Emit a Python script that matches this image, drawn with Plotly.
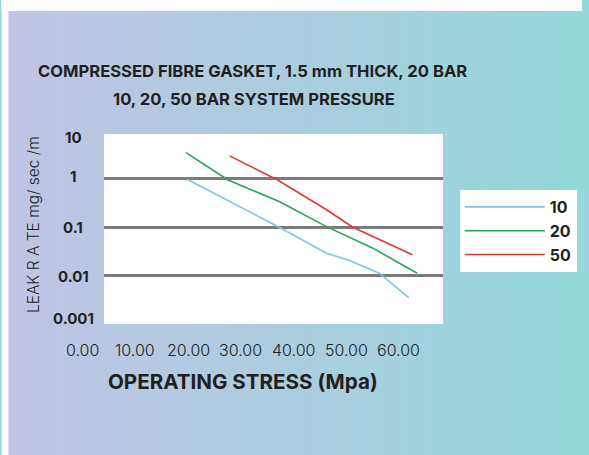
import plotly.graph_objects as go

# ---------------- data ----------------
series_names = ["10", "20", "50"]
stress_10 = [19.8, 26.7, 37.3, 46.3, 50.7, 56.3, 61.9]
leak_10 = [0.98, 0.40, 0.10, 0.029, 0.0205, 0.0112, 0.0035]
stress_20 = [19.6, 27.6, 37.3, 46.3, 55.1, 63.5]
leak_20 = [3.5, 0.95, 0.34, 0.103, 0.037, 0.0112]
stress_50 = [27.9, 37.0, 46.3, 51.3, 62.6]
leak_50 = [2.99, 0.95, 0.23, 0.10, 0.027]

x_tick_values = [0, 10, 20, 30, 40, 50, 60]
x_tick_labels = ["0.00", "10.00", "20.00", "30.00", "40.00", "50.00", "60.00"]
y_tick_exponents = [1, 0, -1, -2, -3]          # 10 ... 0.001
y_tick_labels = ["10", "1", "0.1", "0.01", "0.001"]
y_grid_values = [1, 0.1, 0.01]

title_line1 = "COMPRESSED FIBRE GASKET, 1.5 mm THICK, 20 BAR"
title_line2 = "10, 20, 50 BAR SYSTEM PRESSURE"
x_title = "OPERATING STRESS (Mpa)"
y_title = "LEAK R A TE mg/ sec /m"

colors = ["#7cc8e6", "#2aa35c", "#e0392e"]

# ---------------- layout geometry (px) ----------------
W, H = 589, 455
PL, PR, PT, PB = 104, 448, 134, 324  # plot area
pw, ph = PR - PL, PB - PT
X_RANGE = [(PL - 82.5) / 5.342, (PR - 82.5) / 5.342]
Y_RANGE = [-3, 0.928]


def px_x(px):
    return (px - PL) / pw


def px_y(py):
    return (PB - py) / ph


def xval_paper(v):
    return (v - X_RANGE[0]) / (X_RANGE[1] - X_RANGE[0])


def yexp_paper(e):
    return (e - Y_RANGE[0]) / (Y_RANGE[1] - Y_RANGE[0])


TEXT = "#231f20"
FONT = "Inter"

fig = go.Figure()
for name, xs, ys, c in zip(series_names,
                           [stress_10, stress_20, stress_50],
                           [leak_10, leak_20, leak_50], colors):
    fig.add_trace(go.Scatter(x=xs, y=ys, mode="lines", name=name,
                             line=dict(color=c, width=1.6)))

# background gradient (lavender -> teal), kept inside the figure bounds
shapes = []
left_c = (193, 196, 228)
right_c = (148, 216, 216)
gx0, gx1, gy0, gy1 = 7, W, 11, H
N = 90
for i in range(N):
    t = i / (N - 1)
    r = round(left_c[0] + (right_c[0] - left_c[0]) * t)
    g = round(left_c[1] + (right_c[1] - left_c[1]) * t)
    b = round(left_c[2] + (right_c[2] - left_c[2]) * t)
    a = gx0 + (gx1 - gx0) * i / N
    bb = min(gx0 + (gx1 - gx0) * (i + 1) / N + 0.6, W)
    shapes.append(dict(type="rect", xref="paper", yref="paper",
                       x0=px_x(a), x1=px_x(bb), y0=px_y(gy1), y1=px_y(gy0),
                       fillcolor=f"rgb({r},{g},{b})", line=dict(width=0),
                       layer="below"))
# white margins (top and left) around the coloured panel
shapes.append(dict(type="rect", xref="paper", yref="paper",
                   x0=px_x(0), x1=px_x(W), y0=px_y(gy0), y1=px_y(0),
                   fillcolor="white", line=dict(width=0), layer="below"))
shapes.append(dict(type="rect", xref="paper", yref="paper",
                   x0=px_x(0), x1=px_x(gx0), y0=px_y(H), y1=px_y(0),
                   fillcolor="white", line=dict(width=0), layer="below"))
# white plot area
shapes.append(dict(type="rect", xref="x domain", yref="y domain",
                   x0=0, x1=1, y0=0, y1=1, fillcolor="white",
                   line=dict(width=0), layer="below"))

annotations = []
# title lines
for txt, cx, cy in [(title_line1, 255, 71), (title_line2, 256, 99)]:
    annotations.append(dict(text=txt, xref="paper", yref="paper",
                            x=px_x(cx), y=px_y(cy), showarrow=False,
                            xanchor="center", yanchor="middle",
                            font=dict(family=FONT, size=16.6, color=TEXT, weight="bold")))
# x title
annotations.append(dict(text=x_title, xref="paper", yref="paper",
                        x=px_x(245), y=px_y(381), showarrow=False,
                        xanchor="center", yanchor="middle",
                        font=dict(family=FONT, size=20.6, color=TEXT, weight="bold")))
# y title
annotations.append(dict(text=y_title, xref="paper", yref="paper",
                        x=px_x(32), y=px_y(225), showarrow=False, textangle=-90,
                        xanchor="center", yanchor="middle",
                        font=dict(family=FONT, size=15.5, color=TEXT, weight=300)))
# x tick labels
for v, lab in zip(x_tick_values, x_tick_labels):
    annotations.append(dict(text=lab, xref="paper", yref="paper",
                            x=xval_paper(v), y=px_y(350),
                            showarrow=False, xanchor="center", yanchor="middle",
                            font=dict(family=FONT, size=16, color=TEXT, weight=300)))
# y tick labels
y_shifts = [-7, 2, 0, -1, 6]
for e, lab, s in zip(y_tick_exponents, y_tick_labels, y_shifts):
    annotations.append(dict(text=lab, xref="paper", yref="paper", x=px_x(73),
                            y=yexp_paper(e), yshift=s,
                            showarrow=False, xanchor="center", yanchor="middle",
                            font=dict(family=FONT, size=15, color=TEXT, weight="bold")))

fig.update_layout(
    width=W, height=H, autosize=False,
    margin=dict(l=PL, r=W - PR, t=PT, b=H - PB, pad=0),
    paper_bgcolor="rgb(148,216,216)", plot_bgcolor="rgba(0,0,0,0)",
    shapes=shapes, annotations=annotations,
    showlegend=True,
    legend=dict(x=px_x(465), y=px_y(190), xanchor="left", yanchor="top",
                bgcolor="white", borderwidth=0, itemwidth=80,
                font=dict(family=FONT, size=16, color=TEXT, weight="bold"),
                tracegroupgap=0),
    xaxis=dict(range=X_RANGE, showticklabels=False, showgrid=False,
               zeroline=False, showline=False, ticks=""),
    yaxis=dict(type="log", range=Y_RANGE, tickvals=y_grid_values,
               showticklabels=False, showgrid=True, gridcolor="#7a7a7a",
               gridwidth=3, zeroline=False, showline=False, ticks=""),
)

fig.write_html(
    "out.html",
    config={"displayModeBar": False},
    post_script=("document.body.style.margin='0';"
                 "document.body.style.overflow='hidden';"
                 "document.documentElement.style.overflow='hidden';"),
)
